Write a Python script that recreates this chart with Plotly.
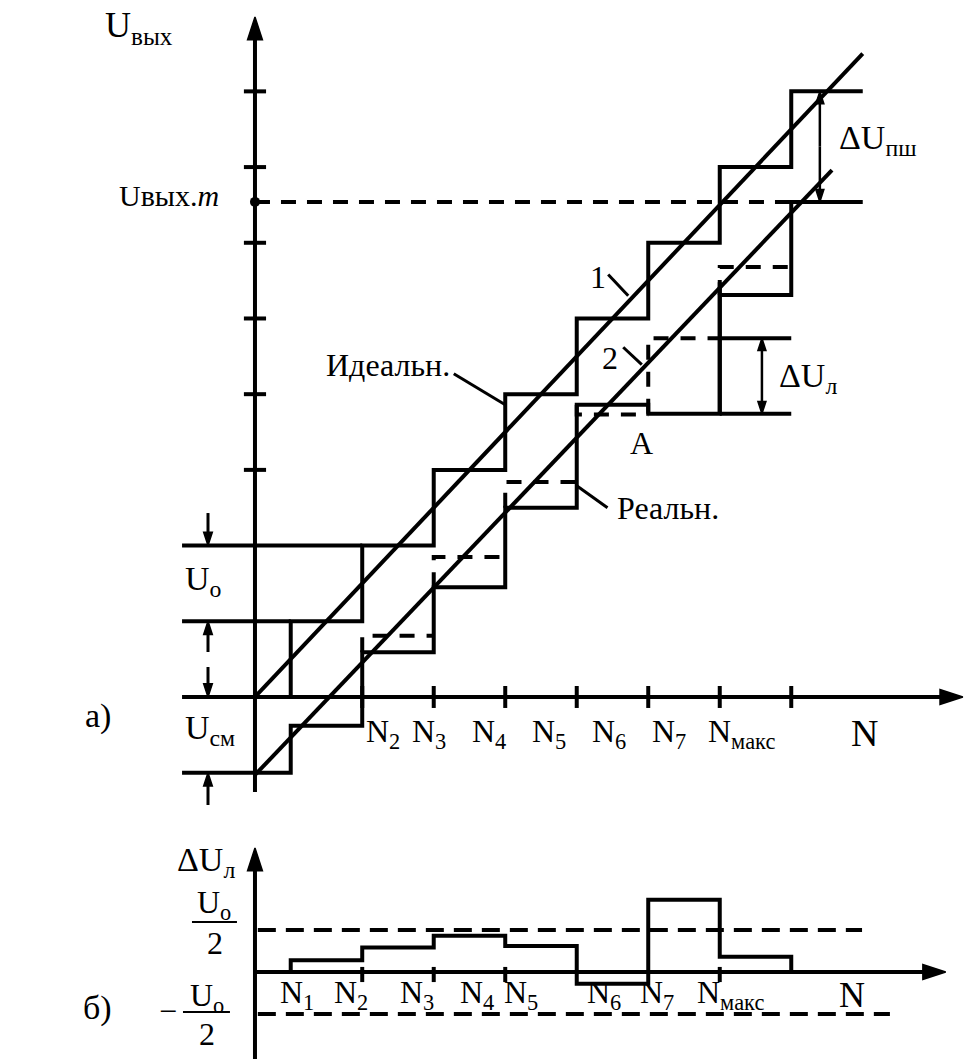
import plotly.graph_objects as go

# ---------------- values ----------------
# code axis N: transition points of the converter (in LSB steps)
code_edges = [0.0, 0.5, 1.5, 2.5, 3.5, 4.5, 5.5, 6.5, 7.5, 8.5]
# output level on each code interval (in units of Uo)
ideal_levels = [0, 1, 2, 3, 4, 5, 6, 7, 8]
real_levels = [-1.0, -0.38, 0.59, 1.45, 2.50, 3.86, 3.74, 5.31, 6.54]
nominal_levels = [None, None, 0.81, 1.85, 2.84, 3.73, 4.74, 5.68, None]

# straight-line characteristics 1 (ideal) and 2 (real)
ideal_char_x = [0.0, 8.5]
ideal_char_y = [0.0, 8.5]
real_char_x = [0.0, 8.07]
real_char_y = [-1.03, 6.96]

u_offset = -1.0          # Uсм
u_step = 1.0             # Uo
u_out_max = real_levels[-1]

# linearity error per code interval (in units of Uo)
err_edges = [0.5, 1.5, 2.5, 3.5, 4.5, 5.5, 6.5, 7.5]
err_values = [0.14, 0.29, 0.43, 0.31, -0.14, 0.86, 0.18]
err_bound = 0.5

ticks_n_a = [1.5, 2.5, 3.5, 4.5, 5.5, 6.5, 7.5]
ticks_u_a = [3, 4, 5, 6, 7, 8]
ticks_n_b = [1.5, 2.5, 3.5, 6.5]

labels_n_a = ["N<sub>2</sub>", "N<sub>3</sub>", "N<sub>4</sub>", "N<sub>5</sub>",
              "N<sub>6</sub>", "N<sub>7</sub>", "N<sub>макс</sub>", "N"]
labels_n_b = ["N<sub>1</sub>", "N<sub>2</sub>", "N<sub>3</sub>", "N<sub>4</sub>",
              "N<sub>5</sub>", "N<sub>6</sub>", "N<sub>7</sub>", "N<sub>макс</sub>", "N"]

# ---------------- layout constants ----------------
W, H = 966, 1059
X_RANGE = [-3.566, 9.944]
YA_RANGE = [-4.782, 9.207]
YB_RANGE = [-1.036, 11.571]
FONT = "Liberation Serif, Times New Roman, Times, serif"
LW = 4

label_x_a = [1.52, 2.17, 3.01, 3.85, 4.69, 5.52, 6.31, 8.31]
label_y_a = -0.48
label_x_b = [0.32, 1.08, 2.0, 2.84, 3.46, 4.62, 5.36, 6.15, 8.14]
label_y_b = -0.27

fig = go.Figure()


def line(xs, ys, yaxis="y", width=LW, dash=None):
    fig.add_trace(go.Scatter(
        x=xs, y=ys, yaxis=yaxis, mode="lines", hoverinfo="skip", showlegend=False,
        line=dict(color="black", width=width, dash=dash), connectgaps=False))


def arrow(x0, y0, x1, y1, yaxis="y", size=22, width=LW):
    fig.add_trace(go.Scatter(
        x=[x0, x1], y=[y0, y1], yaxis=yaxis, mode="lines+markers",
        hoverinfo="skip", showlegend=False,
        line=dict(color="black", width=width),
        marker=dict(symbol="arrow", size=[0, size], angleref="previous",
                    color="black", opacity=1,
                    line=dict(width=1.5, color="black"))))


def stairs(edges, levels):
    xs, ys = [], []
    for i, lv in enumerate(levels):
        xs += [edges[i], edges[i + 1]]
        ys += [lv, lv]
    return xs, ys


def text(x, y, s, size=32, yref="y", xanchor="center", yanchor="middle"):
    fig.add_annotation(x=x, y=y, xref="x", yref=yref, text=s, showarrow=False,
                       xanchor=xanchor, yanchor=yanchor,
                       font=dict(family=FONT, size=size, color="black"))


# ================= (а) transfer characteristic =================
# axes
arrow(0, -1.255, 0, 8.983, size=24)
arrow(-1.02, 0, 9.90, 0, size=24)
for t in ticks_u_a:
    line([-0.155, 0.155], [t, t])
for t in ticks_n_a:
    line([t, t], [-0.145, 0.145])

# ideal staircase and characteristic 1
xs, ys = stairs(code_edges, ideal_levels)
line(xs, ys)
line(ideal_char_x, ideal_char_y)

# real staircase and characteristic 2
xs, ys = stairs(code_edges, real_levels)
line(xs, ys)
line(real_char_x, real_char_y)

# nominal (linear) positions of the real steps, dashed
dx, dy = [], []
for i, nv in enumerate(nominal_levels):
    if nv is None:
        continue
    dx += [code_edges[i], code_edges[i], code_edges[i + 1], None]
    dy += [real_levels[i], nv, nv, None]
line(dx, dy, dash="15px,12px")

# guide lines on the left (Uo, Uсм)
line([-1.02, code_edges[2]], [2 * u_step, 2 * u_step])
line([-1.02, code_edges[1]], [u_step, u_step])
line([-1.02, 0], [u_offset, u_offset])

# Uвых.m level
line([0, code_edges[-2]], [u_out_max, u_out_max], dash="15px,11px")
fig.add_trace(go.Scatter(x=[0], y=[u_out_max], mode="markers", hoverinfo="skip",
                         showlegend=False, marker=dict(color="black", size=10)))

# ΔUл: extension lines (interval after N7) and double arrow
k = 6
line([code_edges[k + 1], code_edges[k + 2]], [nominal_levels[k], nominal_levels[k]])
line([code_edges[k + 1], code_edges[k + 2]], [real_levels[k], real_levels[k]])
line([code_edges[k + 1], code_edges[k + 1]], [real_levels[k], 5.48])
mid = (nominal_levels[k] + real_levels[k]) / 2
arrow(7.09, mid, 7.09, nominal_levels[k], size=13, width=2.5)
arrow(7.09, mid, 7.09, real_levels[k], size=13, width=2.5)

# ΔUпш double arrow at full scale
mid = (ideal_levels[-1] + u_out_max) / 2
arrow(7.9, mid, 7.9, ideal_levels[-1], size=13, width=2.5)
arrow(7.9, mid, 7.9, u_out_max, size=13, width=2.5)

# Uo / Uсм dimension arrows
arrow(-0.657, 2.43, -0.657, 2 * u_step, size=14, width=3)
arrow(-0.657, 0.594, -0.657, u_step, size=14, width=3)
arrow(-0.657, 0.396, -0.657, 0, size=14, width=3)
arrow(-0.657, -1.427, -0.657, u_offset, size=14, width=3)

# leader lines
line([2.78, 3.5], [4.27, 3.86], width=3)
line([4.5, 4.93], [2.79, 2.50], width=3)
line([4.94, 5.22], [5.58, 5.30], width=3)
line([5.15, 5.41], [4.62, 4.39], width=3)

# texts
text(-2.126, 8.84, "U<sub>вых</sub>", size=36, xanchor="left")
text(-0.47, 6.62, "Uвых.<i>m</i>", size=30, xanchor="right")
text(-1.007, 1.53, "U<sub>o</sub>", size=34, xanchor="left")
text(-1.007, -0.44, "U<sub>см</sub>", size=34, xanchor="left")
text(2.75, 4.38, "Идеальн.", size=32, xanchor="right")
text(5.035, 2.50, "Реальн.", size=32, xanchor="left")
text(4.80, 5.55, "1", size=32)
text(4.97, 4.48, "2", size=32)
text(5.41, 3.36, "A", size=32)
text(8.14, 7.36, "ΔU<sub>пш</sub>", size=34, xanchor="left")
text(7.30, 4.21, "ΔU<sub>л</sub>", size=34, xanchor="left")
for xl, s in zip(label_x_a, labels_n_a):
    text(xl, label_y_a, s, size=32 if s != "N" else 38, xanchor="left")
text(-2.196, -0.25, "а)", size=34)

# ================= (б) linearity error =================
arrow(0, -1.08, 0, 1.476, yaxis="y2", size=24)
arrow(0, 0, 9.66, 0, yaxis="y2", size=24)
for t in ticks_n_b:
    line([t, t], [0.06, -0.12], yaxis="y2")

line([0.04, 8.49], [err_bound, err_bound], yaxis="y2", dash="18px,10px")
line([0.04, 8.88], [-err_bound, -err_bound], yaxis="y2", dash="18px,10px")

xs, ys = stairs(err_edges, err_values)
line([err_edges[0]] + xs + [err_edges[-1]], [0] + ys + [0], yaxis="y2")

for xl, s in zip(label_x_b, labels_n_b):
    text(xl, label_y_b, s, size=32 if s != "N" else 36, yref="y2", xanchor="left")

text(-1.119, 1.31, "ΔU<sub>л</sub>", size=34, yref="y2", xanchor="left")
text(-0.573, 0.80, "U<sub>o</sub>", size=32, yref="y2")
line([-0.881, -0.252], [0.595, 0.595], yaxis="y2", width=2)
text(-0.559, 0.35, "2", size=32, yref="y2")
text(-1.217, -0.464, "−", size=32, yref="y2")
text(-0.671, -0.30, "U<sub>o</sub>", size=32, yref="y2")
line([-1.007, -0.35], [-0.476, -0.476], yaxis="y2", width=2)
text(-0.671, -0.74, "2", size=32, yref="y2")
text(-2.196, -0.43, "б)", size=34, yref="y2")

fig.update_layout(
    width=W, height=H, margin=dict(l=0, r=0, t=0, b=0),
    paper_bgcolor="white", plot_bgcolor="white", showlegend=False,
    font=dict(family=FONT, color="black"),
    xaxis=dict(range=X_RANGE, visible=False, fixedrange=True),
    yaxis=dict(range=YA_RANGE, visible=False, fixedrange=True),
    yaxis2=dict(range=YB_RANGE, visible=False, overlaying="y", fixedrange=True),
)
fig.update_traces(cliponaxis=False)

fig.write_html("out.html")
